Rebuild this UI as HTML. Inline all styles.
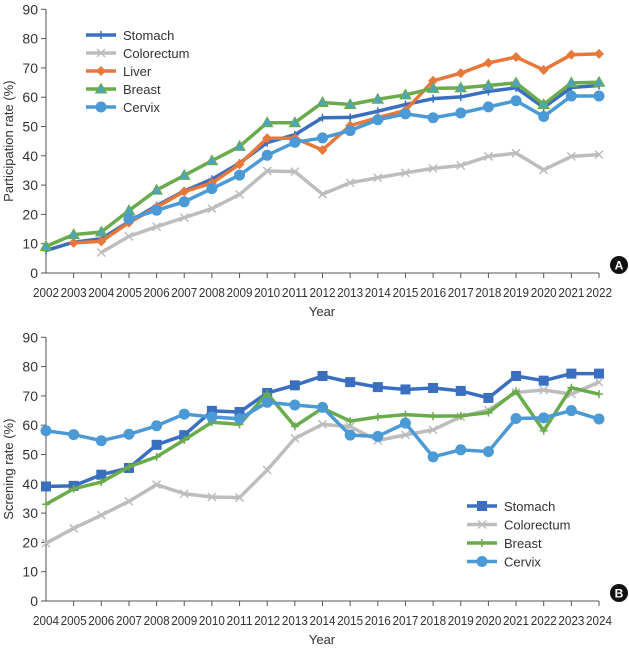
<!DOCTYPE html>
<html><head><meta charset="utf-8"><style>
html,body{margin:0;padding:0;background:#fff;}
svg{display:block;font-family:"Liberation Sans",sans-serif;}
</style></head><body>
<svg id="chart" width="629" height="649" viewBox="0 0 629 649"></svg>
<script>
const yearsA = [2002,2003,2004,2005,2006,2007,2008,2009,2010,2011,2012,2013,2014,2015,2016,2017,2018,2019,2020,2021,2022];
const stomachA = [7.7,10.5,11.7,17.5,23,28,32,37.5,44.5,47.2,53,53.1,55.2,57.5,59.5,60.1,62,63.2,56.5,63.3,64];
const colorectumA = [null,null,7,12.5,15.8,18.9,22,26.8,34.8,34.6,26.9,30.8,32.5,34.2,35.7,36.7,39.8,40.9,35.2,39.8,40.4];
const liverA = [null,10.3,10.8,17.2,22.5,27.8,30.7,37.1,46,46,42,50.3,53,55.5,65.6,68.2,71.7,73.7,69.3,74.5,74.8];
const breastA = [9.1,13.1,14,21.3,28.3,33.3,38.3,43.2,51.3,51.3,58.2,57.5,59.3,60.8,63,63.2,64,64.9,57.5,64.9,65.1];
const cervixA = [null,null,null,18.4,21.4,24.3,28.8,33.4,40.2,44.6,46.1,48.6,52.3,54.3,53,54.6,56.7,58.8,53.4,60.4,60.4];
const yearsB = [2004,2005,2006,2007,2008,2009,2010,2011,2012,2013,2014,2015,2016,2017,2018,2019,2020,2021,2022,2023,2024];
const stomachB = [39.1,39.3,43.1,45.4,53.3,56.6,64.9,64.5,71,73.6,76.8,74.7,73,72.2,72.7,71.7,69.3,76.8,75.2,77.6,77.6];
const colorectumB = [19.7,24.8,29.3,34,39.7,36.6,35.5,35.3,44.7,55.5,60.3,59.5,54.8,56.7,58.4,62.9,65.2,71.2,72,70.6,74.7];
const breastB = [33,38.3,40.6,45.8,49.2,55,61,60.3,70.8,59.6,65.8,61.4,62.8,63.6,63.1,63.2,64.3,71.6,58.1,72.8,70.6];
const cervixB = [58.1,56.8,54.7,56.9,59.8,63.8,62.8,62.2,67.8,66.9,66.1,56.6,56.2,60.7,49.2,51.6,51,62.3,62.5,65,62.1];
const yTicks = [0,10,20,30,40,50,60,70,80,90];

const C = {stomach:'#3a6fc0',colorectum:'#bdbdbd',liver:'#e8773a',breast:'#6aab4c',cervix:'#4b9ad6'};
const svg = document.getElementById('chart');
const NS = 'http://www.w3.org/2000/svg';
function el(tag, attrs, parent){const e=document.createElementNS(NS,tag);for(const k in attrs)e.setAttribute(k,attrs[k]);(parent||svg).appendChild(e);return e;}

function marker(g,type,x,y,color){
  let m;
  if(type==='plus'){m=el('path',{d:`M${x-4},${y}H${x+4}M${x},${y-4}V${y+4}`,stroke:color,'stroke-width':1.5},g);}
  else if(type==='x'){m=el('path',{d:`M${x-4},${y-4}L${x+4},${y+4}M${x-4},${y+4}L${x+4},${y-4}`,stroke:color,'stroke-width':1.5},g);}
  else if(type==='diamond'){m=el('path',{d:`M${x},${y-5}L${x+5},${y}L${x},${y+5}L${x-5},${y}Z`,fill:color},g);}
  else if(type==='tri'){m=el('path',{d:`M${x},${y-5.5}L${x+5.5},${y+4}L${x-5.5},${y+4}Z`,fill:'#4ea5b8',stroke:color,'stroke-width':1},g);}
  else if(type==='circle'){m=el('circle',{cx:x,cy:y,r:5.5,fill:color},g);}
  else if(type==='square'){m=el('rect',{x:x-5,y:y-5,width:10,height:10,fill:color},g);}
  
  
}

function panel(cfg){
  const {years,series,y0,x0,x1,letter,ytitle,legend,name}=cfg;
  const g=el('g',{});
  
  
  const yPer=29.3;
  const X=i=>x0+(x1-x0)*i/(years.length-1);
  const Y=v=>y0-v*yPer/10;
  const ax=el('path',{d:`M${x0},${Y(90)}V${y0}H${x1}`,stroke:'#555',fill:'none','stroke-width':1},g);
  
  
  yTicks.forEach(t=>{
    el('line',{x1:x0-5,x2:x0,y1:Y(t),y2:Y(t),stroke:'#555'},g);
    const tx=el('text',{x:x0-8,y:Y(t)+5,'text-anchor':'end','font-size':14,fill:'#333'},g);
    tx.textContent=t;
    
    
  });
  years.forEach((yr,i)=>{
    if(i>0) el('line',{x1:X(i),x2:X(i),y1:y0,y2:y0+5,stroke:'#555'},g);
    const tx=el('text',{x:X(i),y:y0+24,'text-anchor':'middle','font-size':13,fill:'#333',textLength:26,lengthAdjust:'spacingAndGlyphs'},g);
    tx.textContent=yr;
    
    
  });
  const yt=el('text',{transform:`translate(13,${(Y(90)+y0)/2}) rotate(-90)`,'text-anchor':'middle','font-size':13,fill:'#333'},g);
  yt.textContent=ytitle;
  
  
  const xt=el('text',{x:322,y:y0+43,'text-anchor':'middle','font-size':13,fill:'#333'},g);
  xt.textContent='Year';
  
  
  const badge=el('circle',{cx:619,cy:y0-8,r:9,fill:'#111'},g);
  
  
  const bt=el('text',{x:619,y:y0-3.5,'text-anchor':'middle','font-size':12,'font-weight':'bold',fill:'#fff'},g);
  bt.textContent=letter;
  
  
  series.forEach(s=>{
    const sg=el('g',{},g);
    
    
    let d='';
    s.data.forEach((v,i)=>{if(v==null)return;d+=(d?'L':'M')+X(i)+','+Y(v);});
    el('path',{d,stroke:s.color,'stroke-width':3.5,fill:'none','stroke-linejoin':'round'},sg);
    s.data.forEach((v,i)=>{if(v!=null)marker(sg,s.mk,X(i),Y(v),s.color);});
  });
  series.forEach((s,i)=>{
    const lg=el('g',{},g);
    
    
    const ly=legend.y+i*legend.dy;
    el('line',{x1:legend.x,x2:legend.x+30,y1:ly,y2:ly,stroke:s.color,'stroke-width':3.5},lg);
    marker(lg,s.mk,legend.x+15,ly,s.color);
    const t=el('text',{x:legend.x+37,y:ly+5,'font-size':13,fill:'#333'},lg);
    t.textContent=s.label;
  });
}

panel({name:'panel-a-participation',years:yearsA,x0:46,x1:599,y0:273,letter:'A',ytitle:'Participation rate (%)',
  legend:{x:86,y:35,dy:18},
  series:[
    {label:'Stomach',data:stomachA,color:C.stomach,mk:'plus'},
    {label:'Colorectum',data:colorectumA,color:C.colorectum,mk:'x'},
    {label:'Liver',data:liverA,color:C.liver,mk:'diamond'},
    {label:'Breast',data:breastA,color:C.breast,mk:'tri'},
    {label:'Cervix',data:cervixA,color:C.cervix,mk:'circle'}
  ]});
panel({name:'panel-b-screening',years:yearsB,x0:46,x1:599,y0:601,letter:'B',ytitle:'Screning rate (%)',
  legend:{x:467,y:506,dy:18.5},
  series:[
    {label:'Stomach',data:stomachB,color:C.stomach,mk:'square'},
    {label:'Colorectum',data:colorectumB,color:C.colorectum,mk:'x'},
    {label:'Breast',data:breastB,color:C.breast,mk:'plus'},
    {label:'Cervix',data:cervixB,color:C.cervix,mk:'circle'}
  ]});
</script>
</body></html>
